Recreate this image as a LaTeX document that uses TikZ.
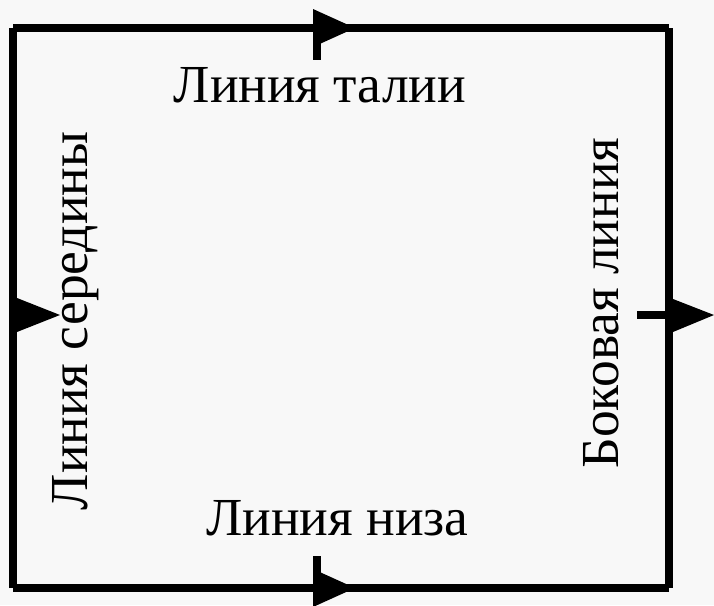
\documentclass[tikz,border=0pt]{standalone}
\usepackage{fontspec}
\setmainfont{Liberation Serif}
\definecolor{bgc}{HTML}{F8F8F8}
\tikzset{
  side/.style={line width=8pt},
  tickln/.style={line width=8pt},
  head/.style={fill=black},
  lbl/.style={font=\fontsize{53.5}{62}\selectfont,inner sep=0pt,anchor=base}
}

\begin{document}
\begin{tikzpicture}[x=1pt,y=-1pt]
\fill[bgc] (0,0) rectangle (714,605);
\useasboundingbox (0,0) rectangle (714,605);
% corners of the pattern piece
\coordinate (tl) at (13,28);
\coordinate (tr) at (669,28);
\coordinate (br) at (669,588);
\coordinate (bl) at (13,588);
\draw[side] (tl)--(tr);
\draw[side] (tr)--(br);
\draw[side] (br)--(bl);
\draw[side] (bl)--(tl);
% ticks
\coordinate (t1) at (317,28);  \coordinate (t2) at (317,60);
\coordinate (b1) at (317,588); \coordinate (b2) at (317,556);
\coordinate (r1) at (669,315); \coordinate (r2) at (637,315);
\draw[tickln] (t1)--(t2);
\draw[tickln] (b1)--(b2);
\draw[tickln] (r1)--(r2);
% arrow heads
\fill[head] (313,9) -- (355,28) -- (313,47) -- cycle;
\fill[head] (313,569) -- (355,588) -- (313,607) -- cycle;
\fill[head] (17,298) -- (60,315) -- (17,332) -- cycle;
\fill[head] (673,299) -- (714,315) -- (673,332) -- cycle;
% labels
\node[lbl] (waist) at (320,102) {Линия талии};
\node[lbl] (hem) at (337.5,535) {Линия низа};
\node[lbl,rotate=90] (centre) at (87,321) {Линия середины};
\node[lbl,rotate=90] (sideseam) at (618,303) {Боковая линия};
\end{tikzpicture}
\end{document}
